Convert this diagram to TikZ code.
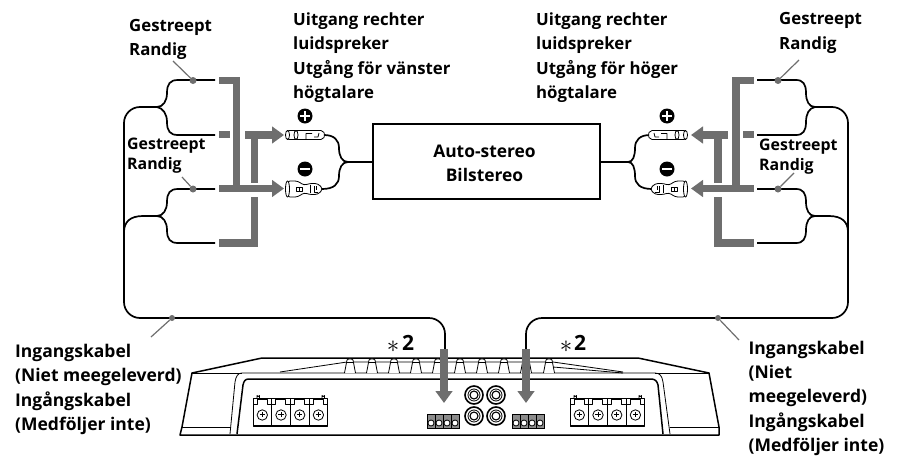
\documentclass[tikz,border=0pt]{standalone}
\usepackage{fontspec}
\setmainfont{Open Sans}
\usetikzlibrary{arrows.meta}
\definecolor{bargray}{HTML}{6E6E6E}
\tikzset{
  wire/.style={draw=black, line width=1.7pt},
  leader/.style={draw=bargray, line width=1.2pt},
  wiredot/.style={circle, fill=bargray, inner sep=0pt, minimum size=7pt},
  bar/.style={draw=bargray, line width=7.5pt},
  bararrow/.style={draw=bargray, line width=7.5pt, -{Triangle[width=16.5pt,length=12pt,fill=bargray]}},
  label/.style={font=\fontsize{16.8}{24.5}\selectfont\bfseries, align=left, anchor=north west, inner sep=0pt},
  small label/.style={font=\fontsize{15.9}{20}\selectfont\bfseries, align=left, anchor=north west, inner sep=0pt},
  cable label/.style={font=\fontsize{17.5}{24.4}\selectfont\bfseries, align=left, anchor=north west, inner sep=0pt},
  amp/.style={draw=black, line width=1.5pt, line join=round},
  ampthin/.style={draw=black, line width=0.8pt, line join=round},
  pics/posplug/.style={code={
    \draw[ampthin, fill=white, rounded corners=2pt] (2,-4.5) -- (38,-4.5) -- (40,0) -- (38,4.5) -- (2,4.5) -- cycle;
    \draw[ampthin, fill=white] (2.5,0) ellipse (2 and 4.5);
    \draw[ampthin] (11,-4.5) arc (90:270:-2 and -4.5);
    \draw[ampthin] (11,-4.5) arc (90:270:2 and -4.5);
    \draw[ampthin] (21,4) -- (21,-1.5) -- (27,-1.5) (29,2) -- (33,2) -- (34,-2);
  }},
  pics/negplug/.style={code={
    \draw[ampthin, fill=white, rounded corners=3pt] (2,-8) -- (13,-8) -- (19,-3.5) -- (24,-5.5) -- (33,-5.5) -- (38,0) -- (33,5.5) -- (24,5.5) -- (19,3.5) -- (13,8) -- (2,8) -- cycle;
    \draw[ampthin, fill=white] (2.5,0) ellipse (2 and 8);
    \draw[ampthin] (11,-2) rectangle (17,2) (14,-2) -- (14,2);
    \draw[ampthin] (25,-4) -- (25,4) (29,-3) -- (29,3) -- (33,3) (31,-3) -- (31,1);
  }},
  pics/termblock/.style={code={
    \foreach \x in {0,18.7,37.4,56.1} {
      \draw[ampthin] (\x,0) rectangle (\x+18.7,28);
      \draw[ampthin] (\x,6) -- (\x+4,6) -- (\x+4,1.5) -- (\x+14,1.5) -- (\x+14,6) -- (\x+18.7,6);
      \draw[ampthin] (\x+9.3,17) circle (5.2);
      \draw[ampthin] (\x+6.5,16.5) -- (\x+12,16.5) (\x+9.3,14) -- (\x+9.3,19);
    }
    \draw[ampthin] (4,0) -- (4,-2.5) arc (180:0:1.2) -- (6.4,0);
    \draw[ampthin] (69,0) -- (69,-2.5) arc (180:0:1.2) -- (71.4,0);
    \draw[line width=1.3pt] (0,27.5) -- (74.8,27.5);
  }},
  pics/smallblock/.style={code={
    \draw[ampthin, fill=black!45] (0,0) rectangle (32,14);
    \foreach \x in {0,8,16,24} {
      \draw[ampthin] (\x,0) rectangle (\x+8,14);
      \draw[ampthin, fill=white] (\x+4,9) circle (3);
    }
  }}
}
\begin{document}
\begin{tikzpicture}[x=1pt,y=-1pt]
  \useasboundingbox (0,0) rectangle (903,461);

  % head unit
  \node[draw=black, line width=1.8pt, minimum width=227pt, minimum height=75pt, inner sep=0pt] (headunit) at (486.5,161.5) {};
  \node[font=\fontsize{17.4}{24}\selectfont\bfseries, align=center, inner sep=0pt] (headtext) at (484.5,163) {Auto-stereo\\Bilstereo};

  % wires, left side
  \coordinate (ltop) at (215,80);
  \coordinate (lmid) at (215,135);
  \coordinate (llow) at (215,189);
  \coordinate (lbot) at (215,243);
  \coordinate (ljoina) at (157,107);
  \coordinate (ljoinb) at (157,216);
  \coordinate (lplugjoin) at (348,162);
  \coordinate (linleft) at (445,349);
  \foreach \a/\b/\y/\s in {ltop/ljoina/80/1,lmid/ljoina/135/-1,llow/ljoinb/189/1,lbot/ljoinb/243/-1} {
    \draw[wire] (\a) -- (178,\y) .. controls (170,\y) and (167,\y+\s*4) .. (167,\y+\s*13)
      .. controls (167,\y+\s*21) and (163,\y+\s*27) .. (\b);
  }
  \draw[wire, rounded corners=16pt] (ljoina) -- (124,107) -- (124,318) -- (445,318) -- (linleft);
  \draw[wire] (ljoinb) -- (143,216) .. controls (130,216) and (124,222) .. (124,232);
  \draw[wire] (headunit.west |- lplugjoin) -- (lplugjoin);
  \draw[wire] (lplugjoin) .. controls (342,162) and (339,156) .. (339,148) .. controls (339,140) and (334,135) .. (324,135);
  \draw[wire] (lplugjoin) .. controls (342,162) and (339,168) .. (339,176) .. controls (339,184) and (334,189) .. (322,189);

  % wires, right side
  \coordinate (rtop) at (757,80);
  \coordinate (rmid) at (757,135);
  \coordinate (rlow) at (757,189);
  \coordinate (rbot) at (757,243);
  \coordinate (rjoina) at (815,107);
  \coordinate (rjoinb) at (815,216);
  \coordinate (rplugjoin) at (628,162);
  \coordinate (rinright) at (526,349);
  \foreach \a/\b/\y/\s in {rtop/rjoina/80/1,rmid/rjoina/135/-1,rlow/rjoinb/189/1,rbot/rjoinb/243/-1} {
    \draw[wire] (\a) -- (796,\y) .. controls (803,\y) and (806,\y+\s*4) .. (806,\y+\s*13)
      .. controls (806,\y+\s*21) and (809,\y+\s*27) .. (\b);
  }
  \draw[wire, rounded corners=16pt] (rjoina) -- (848,107) -- (848,318) -- (526,318) -- (rinright);
  \draw[wire] (rjoinb) -- (829,216) .. controls (842,216) and (848,222) .. (848,232);
  \draw[wire] (headunit.east |- rplugjoin) -- (rplugjoin);
  \draw[wire] (rplugjoin) .. controls (633,162) and (635,156) .. (635,148) .. controls (635,140) and (640,135) .. (650,135);
  \draw[wire] (rplugjoin) .. controls (633,162) and (635,168) .. (635,176) .. controls (635,184) and (640,189) .. (652,189);

  % plugs
  \pic (lpos) at (285,135) {posplug};
  \pic (lneg) at (285,189) {negplug};
  \pic[xscale=-1] (rpos) at (688,135) {posplug};
  \pic[xscale=-1] (rneg) at (688,189) {negplug};

  % polarity marks
  \foreach \n/\x in {lsign/305,rsign/667} {
    \node[circle, fill=black, minimum size=15pt, inner sep=0pt] (\n a) at (\x,116) {};
    \draw[white, line width=2.5pt] (\x-5,116) -- (\x+5,116) (\x,111) -- (\x,121);
    \node[circle, fill=black, minimum size=15pt, inner sep=0pt] (\n b) at (\x,169) {};
    \draw[white, line width=2.5pt] (\x-5,169) -- (\x+5,169);
  }

  % gray bars, left side
  \draw[bar] (219,80.5) -- (236.5,80.5) -- (236.5,188);
  \draw[bar] (219,134.5) -- (230,134.5);
  \draw[bar] (254.5,135) -- (254.5,183);
  \draw[bar] (254.5,197) -- (254.5,243) -- (219,243);
  \draw[bararrow] (245,135) -- (284,135);
  \draw[bararrow] (219,188.5) -- (284,188.5);

  % gray bars, right side
  \draw[bar] (754,80.5) -- (736,80.5) -- (736,188);
  \draw[bar] (754,134.5) -- (743,134.5);
  \draw[bar] (718,135) -- (718,183);
  \draw[bar] (718,197) -- (718,243) -- (754,243);
  \draw[bararrow] (728,135) -- (691,135);
  \draw[bararrow] (754,188.5) -- (691,188.5);

  % dots and leaders
  \node[wiredot] (dota) at (193,80.5) {};
  \node[wiredot] (dotb) at (193,189) {};
  \node[wiredot] (dotc) at (778,80.5) {};
  \node[wiredot] (dotd) at (778,189) {};
  \node[wiredot, minimum size=6pt] (dote) at (172,318) {};
  \node[wiredot, minimum size=6pt] (dotf) at (718,318) {};
  \coordinate (leada) at (173,61);
  \coordinate (leadb) at (182,177);
  \coordinate (leadc) at (799,60);
  \coordinate (leadd) at (794,173);
  \coordinate (leade) at (151,337);
  \coordinate (leadf) at (739,340);
  \draw[leader] (leada) -- (dota);
  \draw[leader] (leadb) -- (dotb);
  \draw[leader] (leadc) -- (dotc);
  \draw[leader] (leadd) -- (dotd);
  \draw[leader] (leade) -- (dote);
  \draw[leader] (leadf) -- (dotf);

  % amplifier
  \draw[amp] (180,435) -- (182,427) -- (192,373) -- (262,358) -- (638,358) -- (709,373) -- (719,427) -- (719,435) -- cycle;
  \draw[ampthin] (182,427) -- (230,427);
  \draw[ampthin] (670,427) -- (719,427);
  \draw[ampthin] (192,373) -- (242,373) (655,373) -- (709,373);
  \draw[ampthin] (230,434) -- (235,382) .. controls (236,376) and (238,373) .. (242,373) -- (655,373) .. controls (660,373) and (662,376) .. (663,382) -- (670,434);
  \draw[amp] (237,434) -- (243,385) .. controls (244,381) and (245,379) .. (249,379) -- (651,379) .. controls (655,379) and (657,381) .. (658,385) -- (663,434);
  \draw[ampthin] (280,372) -- (347,362) -- (553,362) -- (623,372);
  \draw[ampthin] (553,367) -- (623,373);
  \foreach \x in {350,372,394,416,438,460,482,504,526,549} {
    \draw[ampthin, fill=white] (\x-5.5,373) -- (\x-3,360) .. controls (\x-2,358.5) and (\x+2,358.5) .. (\x+3,360) -- (\x+5.5,373);
    \draw[ampthin] (\x-3,362.5) -- (\x+3,362.5);
  }
  \pic (termleft) at (253,398) {termblock};
  \pic (termright) at (570,398) {termblock};
  \pic (portleft) at (427,414) {smallblock};
  \pic (portright) at (512,414) {smallblock};
  \foreach \n/\x/\y in {rcaa/474/395,rcab/496/395,rcac/474/416,rcad/496/416} {
    \node[draw=black, line width=1.6pt, circle, minimum size=18pt, inner sep=0pt] (\n) at (\x,\y) {};
    \draw[ampthin] (\x,\y) circle (6);
    \draw[line width=1.1pt] (\x,\y) circle (4);
  }

  % arrows to inputs
  \draw[bararrow] (444,349) -- (444,403);
  \draw[bararrow] (526,349) -- (526,403);

  % labels
  \node[label] (labelgesa) at (129,19) {Gestreept\\Randig};
  \node[small label] (labelgesb) at (127,137.5) {Gestreept\\Randig};
  \node[label] (labelgesc) at (779,12.5) {Gestreept\\Randig};
  \node[small label] (labelgesd) at (759,139) {Gestreept\\Randig};
  \node[label] (labelspka) at (293,12.5) {Uitgang rechter\\luidspreker\\Utgång för vänster\\högtalare};
  \node[label] (labelspkb) at (536,12.5) {Uitgang rechter\\luidspreker\\Utgång för höger\\högtalare};
  \node[cable label] (labelinla) at (15,344) {Ingangskabel\\(Niet meegeleverd)\\Ingångskabel\\(Medföljer inte)};
  \node[cable label] (labelinra) at (748.5,340.5) {Ingangskabel\\(Niet\\meegeleverd)\\Ingångskabel\\(Medföljer inte)};
  \node[font=\fontsize{21}{21}\selectfont\bfseries, inner sep=0pt] (twoa) at (408,343) {2};
  \node[font=\fontsize{26}{26}\selectfont, inner sep=0pt] (stara) at (393,347) {$*$};
  \node[font=\fontsize{21}{21}\selectfont\bfseries, inner sep=0pt] (twob) at (580,343) {2};
  \node[font=\fontsize{26}{26}\selectfont, inner sep=0pt] (starb) at (566,347) {$*$};
\end{tikzpicture}
\end{document}
